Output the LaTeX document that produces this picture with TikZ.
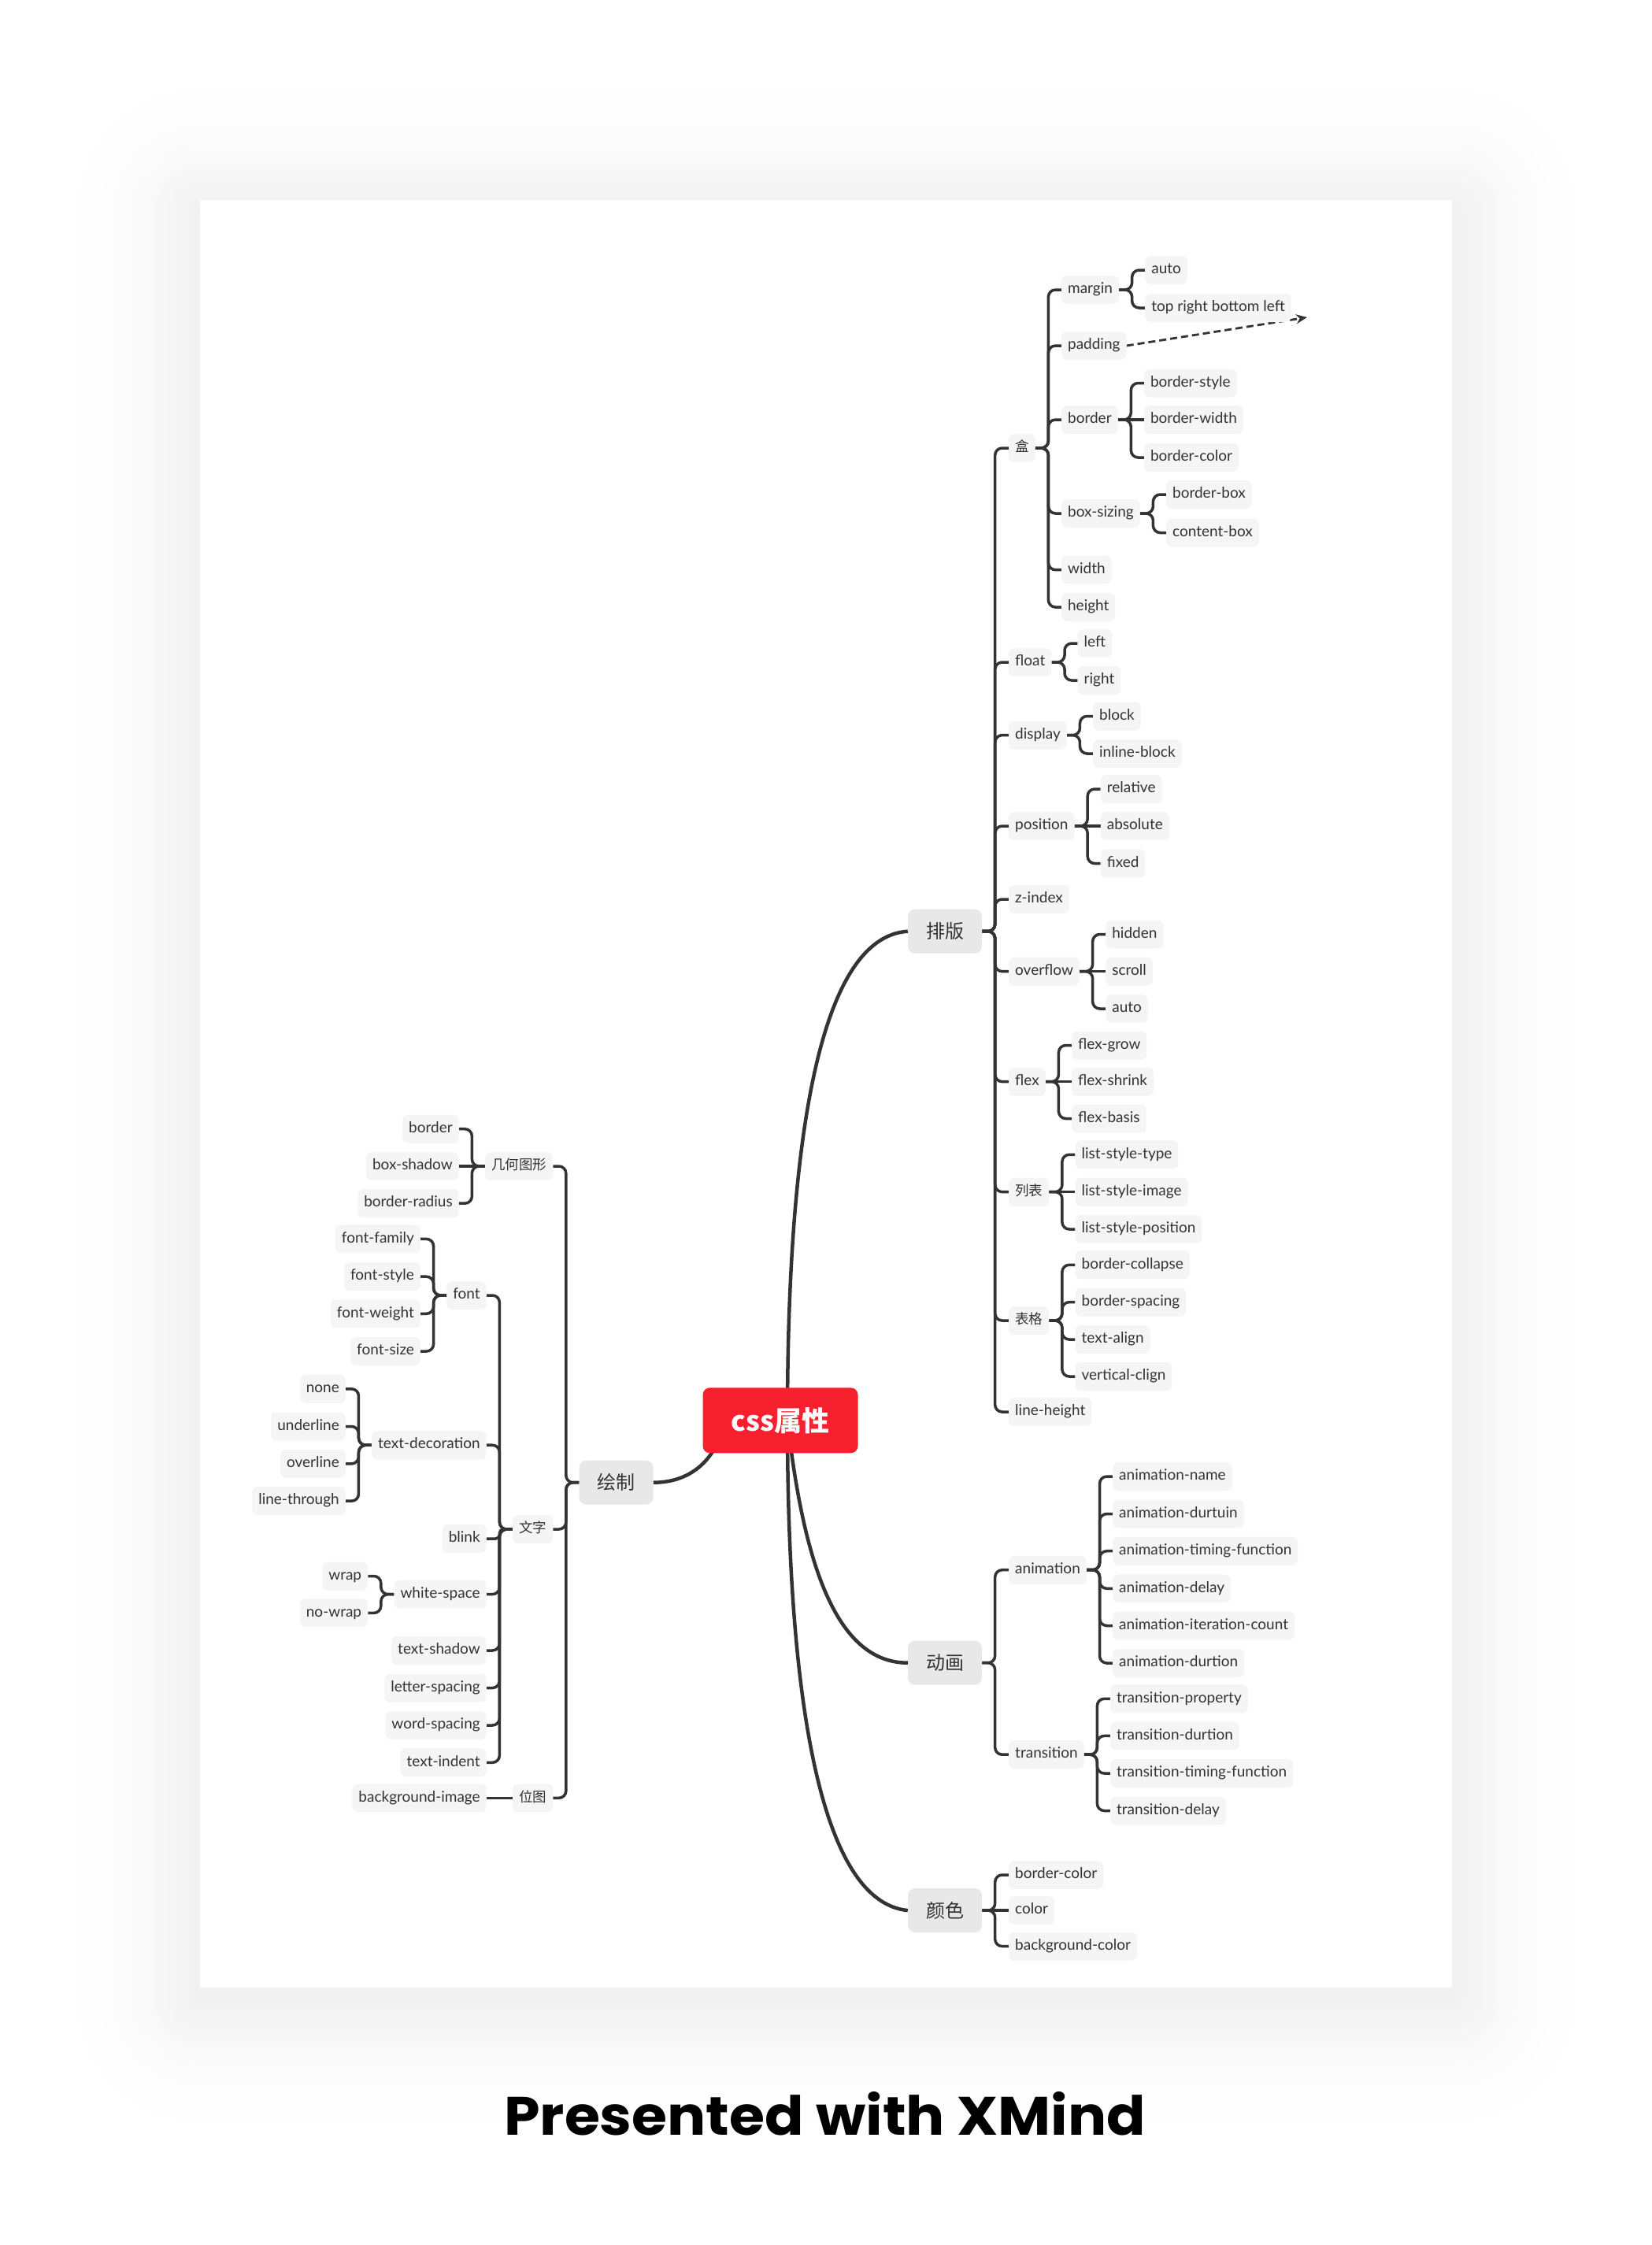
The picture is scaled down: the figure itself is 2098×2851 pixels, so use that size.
\documentclass[tikz,border=0pt]{standalone}
\usepackage{fontspec}
\setmainfont{Lato}
\newfontfamily\cjk{Noto Sans CJK SC}
\newfontfamily\titlefont{Poppins}
\usetikzlibrary{arrows.meta}
\pgfdeclarelayer{back}
\pgfdeclarelayer{links}
\pgfsetlayers{back,links,main}
\definecolor{txt}{HTML}{333333}
\definecolor{lnc}{HTML}{333333}
\definecolor{leafgray}{HTML}{F5F5F5}
\definecolor{brgray}{HTML}{E8E8E8}
\definecolor{rootred}{HTML}{F6202E}
\tikzset{
  leafbox/.style={rectangle, rounded corners=7pt, fill=leafgray, text=txt,
    font=\fontsize{19}{22}\selectfont, inner xsep=8pt, inner ysep=0pt,
    minimum height=36pt, text height=14pt, text depth=4.5pt},
  cleafbox/.style={leafbox, font=\cjk\fontsize{17.5}{20}\selectfont},
  rleaf/.style={leafbox, anchor=west},
  lleaf/.style={leafbox, anchor=east},
  rcleaf/.style={cleafbox, anchor=west},
  lcleaf/.style={cleafbox, anchor=east},
  brbox/.style={rectangle, rounded corners=9pt, fill=brgray, text=txt,
    font=\cjk\fontsize{24}{28}\selectfont, minimum width=94pt, minimum height=56pt, inner sep=0pt},
  rootnode/.style={rectangle, rounded corners=9pt, fill=rootred, text=white,
    font=\cjk\bfseries\fontsize{35}{40}\selectfont, minimum width=197pt, minimum height=83pt, inner sep=0pt},
  lnk/.style={draw=lnc, line width=3.5pt, rounded corners=9pt},
  lnks/.style={draw=lnc, line width=3.5pt, rounded corners=5pt},
  mainlnk/.style={draw=lnc, line width=4.5pt},
  dasharrow/.style={draw=lnc, line width=2.8pt, dash pattern=on 9pt off 5pt,
    -{Stealth[length=14pt,width=12pt]}}
}
\newcommand\rconn[2]{\draw[lnk] (#1.east) -- ++(16.5,0) |- (#2.west);}
\newcommand\lconn[2]{\draw[lnk] (#1.west) -- ++(-16.5,0) |- (#2.east);}
\newcommand\sconn[2]{\draw[lnk] (#1) -- (#2);}
\begin{document}
\begin{tikzpicture}[x=1pt,y=-1pt]
\useasboundingbox (0,0) rectangle (2098,2851);
\begin{pgfonlayer}{back}
  \fill[white] (0,0) rectangle (2098,2851);
  \foreach \i in {30,29,...,1}{
    \pgfmathsetmacro\rr{6*\i}
    \pgfmathsetmacro\kk{5.5*((31-\i)/30)^2}
    \fill[black!\kk!white, rounded corners=\rr pt]
      (254-\rr,269-\rr) rectangle (1844+\rr,2539+\rr);
  }
  \fill[white] (254,254) rectangle (1844,2524);
\end{pgfonlayer}

% ---------- root and main branches ----------
\node[rootnode] (root) at (991,1803.8) {css属性};
\node[brbox] (paiban) at (1200,1182.7) {排版};
\node[brbox] (donghua) at (1200,2111.7) {动画};
\node[brbox] (yanse) at (1200,2426.1) {颜色};
\node[brbox] (huizhi) at (782.5,1882.7) {绘制};

% ---------- 排版 ----------
\node[rcleaf] (he) at (1281,569) {盒};
\node[rleaf] (float) at (1281,841) {float};
\node[rleaf] (display) at (1281,933.6) {display};
\node[rleaf] (position) at (1281,1049) {position};
\node[rleaf] (zindex) at (1281,1142) {z-index};
\node[rleaf] (overflow) at (1281,1233.6) {overflow};
\node[rleaf] (flex) at (1281,1373.6) {flex};
\node[rcleaf] (liebiao) at (1281,1513.6) {列表};
\node[rcleaf] (biaoge) at (1281,1677) {表格};
\node[rleaf] (lineheight) at (1281,1793) {line-height};

\coordinate (hex) at ([xshift=33pt]he.east);
\node[rleaf] (margin) at (hex |- 0,368) {margin};
\node[rleaf] (padding) at (hex |- 0,439) {padding};
\node[rleaf] (border) at (hex |- 0,533) {border};
\node[rleaf] (boxsizing) at (hex |- 0,652) {box-sizing};
\node[rleaf] (width) at (hex |- 0,723.7) {width};
\node[rleaf] (height) at (hex |- 0,771) {height};

\coordinate (mgx) at ([xshift=33pt]margin.east);
\node[rleaf] (mauto) at (mgx |- 0,343) {auto};
\node[rleaf] (trbl) at (mgx |- 0,391) {top right bottom left};
\coordinate (dashend) at (1660,403);

\coordinate (bdx) at ([xshift=33pt]border.east);
\node[rleaf] (bstyle) at (bdx |- 0,486.5) {border-style};
\node[rleaf] (bwidth) at (bdx |- 0,533) {border-width};
\node[rleaf] (bcolor) at (bdx |- 0,581) {border-color};

\coordinate (bsx) at ([xshift=33pt]boxsizing.east);
\node[rleaf] (bbox) at (bsx |- 0,628) {border-box};
\node[rleaf] (cbox) at (bsx |- 0,676.5) {content-box};

\coordinate (flx) at ([xshift=33pt]float.east);
\node[rleaf] (fleft) at (flx |- 0,817) {left};
\node[rleaf] (fright) at (flx |- 0,864) {right};

\coordinate (dsx) at ([xshift=33pt]display.east);
\node[rleaf] (block) at (dsx |- 0,909.5) {block};
\node[rleaf] (iblock) at (dsx |- 0,957) {inline-block};

\coordinate (psx) at ([xshift=33pt]position.east);
\node[rleaf] (relative) at (psx |- 0,1002) {relative};
\node[rleaf] (absolute) at (psx |- 0,1049) {absolute};
\node[rleaf] (fixed) at (psx |- 0,1096.5) {fixed};

\coordinate (ovx) at ([xshift=33pt]overflow.east);
\node[rleaf] (hidden) at (ovx |- 0,1186.5) {hidden};
\node[rleaf] (scroll) at (ovx |- 0,1233.6) {scroll};
\node[rleaf] (oauto) at (ovx |- 0,1281) {auto};

\coordinate (fxx) at ([xshift=33pt]flex.east);
\node[rleaf] (fgrow) at (fxx |- 0,1327.5) {flex-grow};
\node[rleaf] (fshrink) at (fxx |- 0,1373.6) {flex-shrink};
\node[rleaf] (fbasis) at (fxx |- 0,1420.5) {flex-basis};

\coordinate (lbx) at ([xshift=33pt]liebiao.east);
\node[rleaf] (lst1) at (lbx |- 0,1466.3) {list-style-type};
\node[rleaf] (lst2) at (lbx |- 0,1513.6) {list-style-image};
\node[rleaf] (lst3) at (lbx |- 0,1561) {list-style-position};

\coordinate (bgx) at ([xshift=33pt]biaoge.east);
\node[rleaf] (bcol) at (bgx |- 0,1606.3) {border-collapse};
\node[rleaf] (bsp) at (bgx |- 0,1653.6) {border-spacing};
\node[rleaf] (talign) at (bgx |- 0,1701) {text-align};
\node[rleaf] (vclign) at (bgx |- 0,1748) {vertical-clign};

% ---------- 动画 ----------
\node[rleaf] (animation) at (1281,1993.7) {animation};
\node[rleaf] (transition) at (1281,2228.2) {transition};
\coordinate (anx) at ([xshift=33pt]animation.east);
\node[rleaf] (an1) at (anx |- 0,1875) {animation-name};
\node[rleaf] (an2) at (anx |- 0,1922.5) {animation-durtuin};
\node[rleaf] (an3) at (anx |- 0,1969.7) {animation-timing-function};
\node[rleaf] (an4) at (anx |- 0,2017.3) {animation-delay};
\node[rleaf] (an5) at (anx |- 0,2064.5) {animation-iteration-count};
\node[rleaf] (an6) at (anx |- 0,2112) {animation-durtion};
\coordinate (trx) at ([xshift=33pt]transition.east);
\node[rleaf] (tr1) at (trx |- 0,2157.3) {transition-property};
\node[rleaf] (tr2) at (trx |- 0,2204.4) {transition-durtion};
\node[rleaf] (tr3) at (trx |- 0,2252) {transition-timing-function};
\node[rleaf] (tr4) at (trx |- 0,2299.5) {transition-delay};

% ---------- 颜色 ----------
\node[rleaf] (ybc) at (1281,2381) {border-color};
\node[rleaf] (ycolor) at (1281,2426.1) {color};
\node[rleaf] (ybgc) at (1281,2471.6) {background-color};

% ---------- 绘制 ----------
\coordinate (hzx) at ([xshift=-33pt]huizhi.west);
\node[lcleaf] (jihe) at (hzx |- 0,1481) {几何图形};
\node[lcleaf] (wenzi) at (hzx |- 0,1942) {文字};
\node[lcleaf] (weitu) at (hzx |- 0,2283.3) {位图};

\coordinate (jhx) at ([xshift=-33pt]jihe.west);
\node[lleaf] (gborder) at (jhx |- 0,1433.7) {border};
\node[lleaf] (gshadow) at (jhx |- 0,1481) {box-shadow};
\node[lleaf] (gradius) at (jhx |- 0,1528.2) {border-radius};

\coordinate (wzx) at ([xshift=-33pt]wenzi.west);
\node[lleaf] (font) at (wzx |- 0,1645) {font};
\node[lleaf] (tdec) at (wzx |- 0,1835.2) {text-decoration};
\node[lleaf] (blink) at (wzx |- 0,1954) {blink};
\node[lleaf] (wspace) at (wzx |- 0,2024.6) {white-space};
\node[lleaf] (tshadow) at (wzx |- 0,2096) {text-shadow};
\node[lleaf] (lspacing) at (wzx |- 0,2143.5) {letter-spacing};
\node[lleaf] (wspacing) at (wzx |- 0,2191) {word-spacing};
\node[lleaf] (tindent) at (wzx |- 0,2238.3) {text-indent};

\coordinate (ftx) at ([xshift=-33pt]font.west);
\node[lleaf] (ff) at (ftx |- 0,1573.4) {font-family};
\node[lleaf] (fs) at (ftx |- 0,1621.2) {font-style};
\node[lleaf] (fw) at (ftx |- 0,1668.3) {font-weight};
\node[lleaf] (fsz) at (ftx |- 0,1716) {font-size};

\coordinate (tdx) at ([xshift=-33pt]tdec.west);
\node[lleaf] (tnone) at (tdx |- 0,1763.8) {none};
\node[lleaf] (tunder) at (tdx |- 0,1811.5) {underline};
\node[lleaf] (tover) at (tdx |- 0,1858.8) {overline};
\node[lleaf] (tthrough) at (tdx |- 0,1906.2) {line-through};

\coordinate (wsx) at ([xshift=-33pt]wspace.west);
\node[lleaf] (wwrap) at (wsx |- 0,2001.5) {wrap};
\node[lleaf] (wnowrap) at (wsx |- 0,2048.4) {no-wrap};

\coordinate (wtx) at ([xshift=-33pt]weitu.west);
\node[lleaf] (bgimage) at (wtx |- 0,2283.3) {background-image};

% ---------- title ----------
\node[anchor=base west, inner sep=0pt, text=black] (credit) at (640,2711.7)
  {\resizebox{815pt}{55pt}{\titlefont\bfseries Presented with XMind}};

% ---------- connectors ----------
\begin{pgfonlayer}{links}
  \draw[mainlnk] ([xshift=9pt]root.center) .. controls (1000,1450) and (1040,1190) .. (paiban.west);
  \draw[mainlnk] ([xshift=9pt]root.center) .. controls (1020,1980) and (1060,2111.7) .. (donghua.west);
  \draw[mainlnk] ([xshift=9pt]root.center) .. controls (1000,2150) and (1040,2415) .. (yanse.west);
  \draw[mainlnk] ([xshift=-71pt,yshift=-6pt]root.center) .. controls (905,1862) and (870,1882.7) .. (huizhi.east);

  \foreach \c in {he,float,display,position,zindex,overflow,flex,liebiao,biaoge,lineheight}{\rconn{paiban}{\c}}
  \foreach \c in {margin,padding,border,boxsizing,width,height}{\rconn{he}{\c}}
  \rconn{margin}{mauto} \rconn{margin}{trbl}
  \rconn{border}{bstyle} \sconn{border}{bwidth} \rconn{border}{bcolor}
  \rconn{boxsizing}{bbox} \rconn{boxsizing}{cbox}
  \rconn{float}{fleft} \rconn{float}{fright}
  \rconn{display}{block} \rconn{display}{iblock}
  \rconn{position}{relative} \sconn{position}{absolute} \rconn{position}{fixed}
  \rconn{overflow}{hidden} \sconn{overflow}{scroll} \rconn{overflow}{oauto}
  \rconn{flex}{fgrow} \sconn{flex}{fshrink} \rconn{flex}{fbasis}
  \rconn{liebiao}{lst1} \sconn{liebiao}{lst2} \rconn{liebiao}{lst3}
  \foreach \c in {bcol,bsp,talign,vclign}{\rconn{biaoge}{\c}}

  \rconn{donghua}{animation} \rconn{donghua}{transition}
  \foreach \c in {an1,an2,an3,an4,an5,an6}{\rconn{animation}{\c}}
  \foreach \c in {tr1,tr2,tr3,tr4}{\rconn{transition}{\c}}
  \rconn{yanse}{ybc} \sconn{yanse}{ycolor} \rconn{yanse}{ybgc}

  \foreach \c in {jihe,wenzi,weitu}{\lconn{huizhi}{\c}}
  \lconn{jihe}{gborder} \sconn{jihe}{gshadow} \lconn{jihe}{gradius}
  \foreach \c in {font,tdec,wspace,tshadow,lspacing,wspacing,tindent}{\lconn{wenzi}{\c}}
  \draw[lnks] (wenzi.west) -- ++(-16.5,0) |- (blink.east);
  \foreach \c in {ff,fs,fw,fsz}{\lconn{font}{\c}}
  \foreach \c in {tnone,tunder,tover,tthrough}{\lconn{tdec}{\c}}
  \lconn{wspace}{wwrap} \lconn{wspace}{wnowrap}
  \sconn{weitu}{bgimage}

  \draw[dasharrow] (padding.east) -- (dashend);
\end{pgfonlayer}
\end{tikzpicture}
\end{document}
